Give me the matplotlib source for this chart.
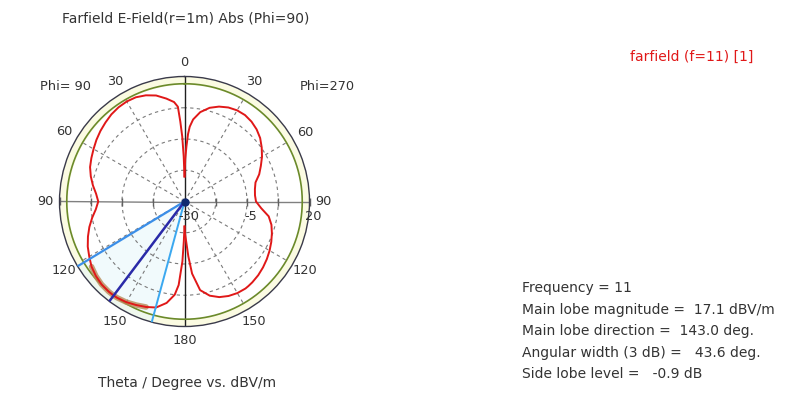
import matplotlib.pyplot as plt
import numpy as np

W, H = 789, 396

# theta cut (deg) and E-field in dBV/m for both half-planes
theta_deg = [0, 1, 2, 3, 4, 6, 10, 15, 20, 25, 30, 35, 40, 45, 50, 55, 60, 65,
             70, 75, 80, 85, 90, 95, 100, 105, 110, 115, 120, 125, 130, 135,
             140, 143, 145, 150, 155, 160, 165, 170, 174, 176, 178, 179, 180]
phi90_db = [-20, -12, -4, 2, 8, 10, 11.8, 13.9, 15.2, 16.0, 16.2, 16.0, 15.5,
            14.7, 13.9, 13.0, 12.0, 11.1, 10.2, 8.8, 7.2, 5.5, 4.5, 5.6, 7.5,
            9.4, 11.1, 12.7, 14.0, 15.4, 16.3, 16.9, 17.1, 17.1, 17.0, 16.5,
            15.7, 14.9, 13.9, 11.2, 7.5, 3.5, -6, -14, -20]
phi270_db = [-20, -13, -8, -3, 0, 3, 6.3, 8.8, 10.4, 11.5, 12.1, 12.2, 11.7,
             10.8, 9.5, 7.7, 5.8, 3.7, 1.8, -0.6, -1.4, -1.7, -1.4, 0.8, 4.2,
             6.0, 7.2, 8.3, 9.3, 10.2, 11.0, 11.7, 12.2, 12.4, 12.5, 12.3,
             11.7, 10.7, 9.0, 6.0, -1, -8, -15, -17, -20]

main_lobe_db = 17.1
main_dir = 143.0
width_3db = 43.6
r_ticks = [-30, -17.5, -5, 7.5, 20]
r_labels = ["-30", "-5", "20"]
angle_ticks = [0, 30, 60, 90, 120, 150, 180]
stats = ["Frequency = 11",
         "Main lobe magnitude =  17.1 dBV/m",
         "Main lobe direction =  143.0 deg.",
         "Angular width (3 dB) =   43.6 deg.",
         "Side lobe level =   -0.9 dB"]

R_MIN, R_MAX = r_ticks[0], r_ticks[-1]
TXT = "#333333"
FS = 10
FS_TICK = 9.3

plt.rcParams["font.family"] = ["DejaVu Sans"]
fig = plt.figure(figsize=(W / 100, H / 100), dpi=100)

cx, cy, rad_px = 184.5, 201.5, 125
ax = fig.add_axes([(cx - rad_px) / W, 1 - (cy + rad_px) / H,
                   2 * rad_px / W, 2 * rad_px / H], projection="polar")
ax.set_theta_zero_location("N")
ax.set_ylim(R_MIN, R_MAX)
ax.grid(False)
ax.set_xticks([])
ax.set_yticks([])
ax.spines["polar"].set_color("#3a3a4a")
ax.spines["polar"].set_linewidth(1.0)

full = np.linspace(0, 2 * np.pi, 721)
# band between the main lobe level and the outer ring
ax.fill_between(full, main_lobe_db, R_MAX, color="#fbfbe2", zorder=0)

# 3 dB beam wedge
lo = np.deg2rad(main_dir - width_3db / 2)
hi = np.deg2rad(main_dir + width_3db / 2)
wedge = np.linspace(lo, hi, 60)
ax.fill_between(wedge, R_MIN, R_MAX, color="#e4f7fb", alpha=0.5, zorder=0)

# dashed grid rings and spokes
for r in r_ticks[1:-1]:
    ax.plot(full, [r] * len(full), color="#7a7a7a", lw=0.8,
            ls=(0, (3, 3)), zorder=1)
for a in range(30, 360, 30):
    if a % 90 == 0:
        continue
    ax.plot([np.deg2rad(a)] * 2, [R_MIN, main_lobe_db], color="#7a7a7a",
            lw=0.8, ls=(0, (3, 3)), zorder=1)

# main axes
ax.plot([np.pi / 2] * 2, [R_MIN, R_MAX], color="#808080", lw=1.0, zorder=2)
ax.plot([3 * np.pi / 2] * 2, [R_MIN, R_MAX], color="#808080", lw=1.0, zorder=2)
ax.plot([0, 0], [R_MIN, R_MAX], color="#202020", lw=1.0, zorder=2)
ax.plot([np.pi] * 2, [R_MIN, R_MAX], color="#202020", lw=1.0, zorder=2)
for r in r_ticks[1:]:
    ax.plot([np.pi / 2, 3 * np.pi / 2], [r, r], ls="none", marker="|",
            ms=6, mew=1.0, color="#606060", zorder=2, clip_on=False)

# main lobe level ring
ax.plot(full, [main_lobe_db] * len(full), color="#6b8a2a", lw=1.2, zorder=3)

th = np.deg2rad(theta_deg)
left_t = th
right_t = -th

# highlight of the main lobe on the curve
sel = [i for i, t in enumerate(theta_deg)
       if main_dir - width_3db / 2 <= t <= main_dir + width_3db / 2]
ax.plot(left_t[sel], [phi90_db[i] for i in sel], color="#b88a58", lw=4,
        alpha=0.8, zorder=4, solid_capstyle="round")

ax.plot(left_t, phi90_db, color="#e01818", lw=1.4, zorder=5)
ax.plot(right_t, phi270_db, color="#e01818", lw=1.4, zorder=5)

# beam direction and 3 dB limits
ax.plot([lo, lo], [R_MIN, R_MAX], color="#3b8ee8", lw=1.6, zorder=6)
ax.plot([hi, hi], [R_MIN, R_MAX], color="#3ba8f0", lw=1.4, zorder=6)
ax.plot([np.deg2rad(main_dir)] * 2, [R_MIN, R_MAX], color="#2a2aa8",
        lw=1.8, zorder=6)
ax.plot([0], [R_MIN], marker="o", ms=5, color="#102a70", zorder=7)

# angle labels on both halves
r_lab = R_MIN + (R_MAX - R_MIN) * 139 / 125
for a in angle_ticks:
    ax.text(np.deg2rad(a), r_lab, str(a), ha="center", va="center",
            fontsize=FS_TICK, color=TXT, clip_on=False)
    if 0 < a < 180:
        ax.text(-np.deg2rad(a), r_lab, str(a), ha="center", va="center",
                fontsize=FS_TICK, color=TXT, clip_on=False)

# radial scale labels under the horizontal axis
for lab, r in zip(r_labels, [r_ticks[0], r_ticks[2], r_ticks[4]]):
    x = cx + (r - R_MIN) / (R_MAX - R_MIN) * rad_px + 4
    fig.text(x / W, 1 - 217 / H, lab, ha="center", va="center",
             fontsize=FS_TICK, color=TXT)

fig.text(186 / W, 1 - 19 / H, "Farfield E-Field(r=1m) Abs (Phi=90)",
         ha="center", va="center", fontsize=FS, color=TXT)
fig.text(187 / W, 1 - 383 / H, "Theta / Degree vs. dBV/m",
         ha="center", va="center", fontsize=FS, color=TXT)
fig.text(40 / W, 1 - 86 / H, "Phi= 90", ha="left", va="center",
         fontsize=FS_TICK, color=TXT)
fig.text(300 / W, 1 - 86 / H, "Phi=270", ha="left", va="center",
         fontsize=FS_TICK, color=TXT)
fig.text(692 / W, 1 - 57 / H, "farfield (f=11) [1]", ha="center",
         va="center", fontsize=FS, color="#e01818")

for i, line in enumerate(stats):
    fig.text(522 / W, 1 - (288 + 21.6 * i) / H, line, ha="left",
             va="center", fontsize=FS, color=TXT)

fig.savefig("out.png", dpi=100, facecolor="white")
